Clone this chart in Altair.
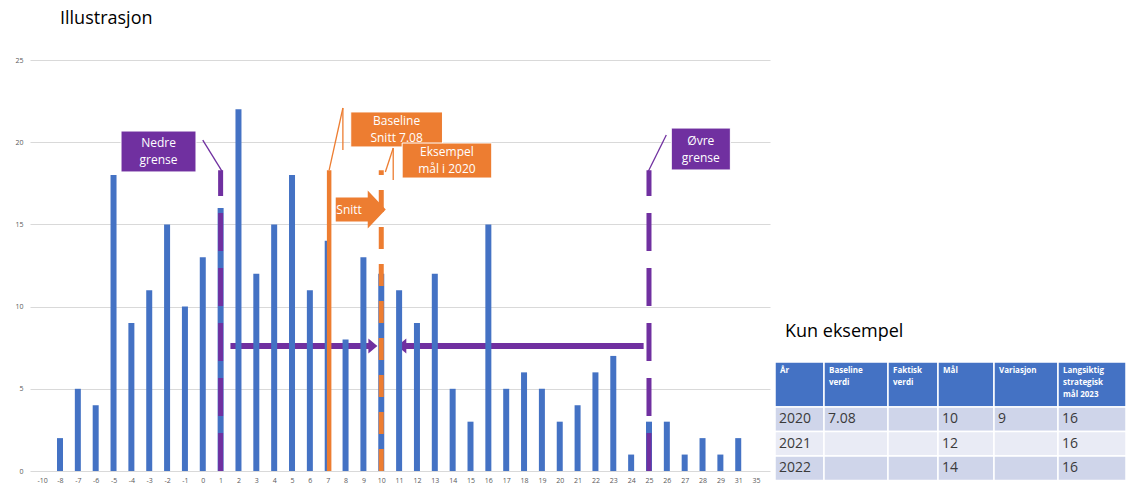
import json
import altair as alt
import pandas as pd

# ---- data -------------------------------------------------------------
categories = ["-10", "-8", "-7", "-6", "-5", "-4", "-3", "-2", "-1", "0", "1", "2",
              "3", "4", "5", "6", "7", "8", "9", "10", "11", "12", "13", "14", "15",
              "16", "17", "18", "19", "20", "21", "22", "23", "24", "25", "26", "27",
              "28", "29", "31", "35"]
counts = [None, 2, 5, 4, 18, 9, 11, 15, 10, 13, 16, 22, 12, 15, 18, 11, 14, 8, 13,
          12, 11, 9, 12, 5, 3, 15, 5, 6, 5, 3, 4, 6, 7, 1, 3, 3, 1, 2, 1, 2, None]

baseline_avg = 7.08
target_2020 = 10
lower_limit = 1
upper_limit = 25

table_header = ["År", "Baseline\nverdi", "Faktisk\nverdi", "Mål", "Variasjon",
                "Langsiktig\nstrategisk\nmål 2023"]
table_rows = [
    ["2020", "7.08", "", "10", "9", "16"],
    ["2021", "", "", "12", "", "16"],
    ["2022", "", "", "14", "", "16"],
]

# ---- styling ----------------------------------------------------------
FONT = "Open Sans"
BLUE = "#4472C4"
ORANGE = "#ED7D31"
PURPLE = "#7030A0"
LINE_TOP = 18.3

cat_vals = [float(c) for c in categories]


def pos(v):
    """Place a value on the category axis (categories sit at integer slots)."""
    for i in range(len(cat_vals) - 1):
        if cat_vals[i] <= v <= cat_vals[i + 1]:
            return i + (v - cat_vals[i]) / (cat_vals[i + 1] - cat_vals[i])
    return float(len(cat_vals) - 1)


xs = alt.Scale(domain=[-0.4, 40.5], nice=False, zero=False)
ys = alt.Scale(domain=[0, 25], nice=False)
xaxis = alt.Axis(values=list(range(len(categories))),
                 labelExpr=json.dumps(categories) + "[datum.value]",
                 grid=False, domain=False, ticks=False, labelFontSize=7,
                 labelColor="#595959", labelPadding=5, labelFont=FONT,
                 labelOverlap=False, labelFlush=False, title=None)
yaxis = alt.Axis(values=[0, 5, 10, 15, 20, 25], grid=True, gridColor="#d9d9d9",
                 domain=False, ticks=False, labelFontSize=7, labelColor="#595959",
                 labelPadding=7, labelFont=FONT, title=None)


def X(f):
    return alt.X(f, type="quantitative", scale=xs, axis=xaxis)


def Y(f):
    return alt.Y(f, type="quantitative", scale=ys, axis=yaxis)


# ---- histogram bars ---------------------------------------------------
bars_df = pd.DataFrame({"idx": range(len(categories)), "kategori": categories,
                        "antall": counts}).dropna()
bars = alt.Chart(bars_df).mark_bar(size=6, color=BLUE).encode(x=X("idx"), y=Y("antall"))

# ---- horizontal arrows between the limits and the target --------------
t = pos(target_2020)
shafts_df = pd.DataFrame({
    "x": [pos(lower_limit) + 0.55, pos(upper_limit) - 0.3],
    "x2": [t - 0.47, t + 1.15],
    "y": [7.6, 7.6],
})
shafts = alt.Chart(shafts_df).mark_rule(color=PURPLE, strokeWidth=6).encode(
    x=X("x"), x2="x2", y=Y("y"))
head_r = alt.Chart(pd.DataFrame({"x": [t - 0.47], "y": [7.6]})).mark_point(
    shape="M-0.6,-1L0.6,0L-0.6,1Z", size=225, filled=True, opacity=1,
    color=PURPLE, strokeWidth=0).encode(x=X("x"), y=Y("y"))
head_l = alt.Chart(pd.DataFrame({"x": [t + 1.15], "y": [7.6]})).mark_point(
    shape="M0.6,-1L-0.6,0L0.6,1Z", size=225, filled=True, opacity=1,
    color=PURPLE, strokeWidth=0).encode(x=X("x"), y=Y("y"))


# ---- vertical reference lines -----------------------------------------
def vline(value, color, width, dash=None):
    df = pd.DataFrame({"x": [pos(value)], "y0": [0], "y1": [LINE_TOP]})
    kw = dict(color=color, strokeWidth=width)
    if dash:
        kw["strokeDash"] = dash
    return alt.Chart(df).mark_rule(**kw).encode(x=X("x"), y=Y("y0"), y2="y1")


lower_line = vline(lower_limit, PURPLE, 5, [38, 17])
upper_line = vline(upper_limit, PURPLE, 5, [38, 17])
base_line = vline(baseline_avg, ORANGE, 4.5)
target_line = vline(target_2020, ORANGE, 5, [22, 15])

# ---- callout boxes ----------------------------------------------------
boxes_df = pd.DataFrame([
    {"x": 4.42, "x2": 8.62, "y": 20.68, "y2": 18.19, "tekst": "Nedre\ngrense", "farge": PURPLE},
    {"x": 17.29, "x2": 22.43, "y": 21.84, "y2": 19.71, "tekst": "Baseline\nSnitt 7.08", "farge": ORANGE},
    {"x": 20.17, "x2": 25.19, "y": 19.95, "y2": 17.82, "tekst": "Eksempel\nmål i 2020", "farge": ORANGE},
    {"x": 35.25, "x2": 38.56, "y": 20.86, "y2": 18.31, "tekst": "Øvre\ngrense", "farge": PURPLE},
])
boxes_df["xm"] = (boxes_df["x"] + boxes_df["x2"]) / 2
boxes_df["ym"] = (boxes_df["y"] + boxes_df["y2"]) / 2
box_rects = alt.Chart(boxes_df).mark_rect(stroke="white", strokeWidth=1).encode(
    x=X("x"), x2="x2", y=Y("y"), y2="y2", color=alt.Color("farge:N", scale=None))
box_text = alt.Chart(boxes_df).mark_text(
    color="white", fontSize=12, font=FONT, lineBreak="\n", lineHeight=17,
    baseline="middle", dy=-8.5).encode(x=X("xm"), y=Y("ym"), text="tekst:N")

leaders_df = pd.DataFrame([
    {"x": 9.0, "y": 20.13, "x2": pos(lower_limit) + 0.1, "y2": LINE_TOP - 0.1, "farge": PURPLE},
    {"x": pos(baseline_avg), "y": LINE_TOP, "x2": 16.85, "y2": 22.08, "farge": ORANGE},
    {"x": 16.85, "y": 22.08, "x2": 16.85, "y2": 19.53, "farge": ORANGE},
    {"x": 19.23, "y": 18.19, "x2": 19.67, "y2": 19.65, "farge": ORANGE},
    {"x": 19.67, "y": 19.65, "x2": 19.67, "y2": 17.70, "farge": ORANGE},
    {"x": pos(upper_limit) - 0.05, "y": LINE_TOP - 0.1, "x2": 34.97, "y2": 20.44, "farge": PURPLE},
])
leaders = alt.Chart(leaders_df).mark_rule(strokeWidth=1.3).encode(
    x=X("x"), y=Y("y"), x2="x2", y2="y2", color=alt.Color("farge:N", scale=None))

# ---- "Snitt" block arrow ----------------------------------------------
snitt_df = pd.DataFrame({"x": [17.85], "y": [15.9], "tx": [17.2], "tekst": ["Snitt"]})
snitt_arrow = alt.Chart(snitt_df).mark_point(
    shape="M-1,-0.48L0.28,-0.48L0.28,-0.76L1,0L0.28,0.76L0.28,0.48L-1,0.48Z",
    size=2500, filled=True, opacity=1, color=ORANGE, strokeWidth=0).encode(
    x=X("x"), y=Y("y"))
snitt_text = alt.Chart(snitt_df).mark_text(
    color="white", fontSize=12, font=FONT, baseline="middle").encode(
    x=X("tx"), y=Y("y"), text="tekst:N")

main = alt.layer(shafts, head_r, head_l, bars, lower_line, upper_line, base_line,
                 target_line, leaders, box_rects, box_text, snitt_arrow, snitt_text)

# ---- example table ----------------------------------------------------
col_widths = [49, 64, 50, 56, 64, 68]
row_heights = [45, 24.5, 24.5, 24.5]
row_fills = ["#CFD5EA", "#E9EBF5", "#CFD5EA"]

col_edges = [sum(col_widths[:i]) for i in range(len(col_widths) + 1)]
row_edges = [sum(row_heights[:i]) for i in range(len(row_heights) + 1)]

cells = []
for r, row in enumerate([table_header] + table_rows):
    for c, txt in enumerate(row):
        cells.append({"x0": col_edges[c], "x1": col_edges[c + 1],
                      "y0": row_edges[r], "y1": row_edges[r + 1],
                      "ym": (row_edges[r] + row_edges[r + 1]) / 2,
                      "tekst": txt, "rad": r,
                      "fyll": BLUE if r == 0 else row_fills[r - 1]})
cells_df = pd.DataFrame(cells)

ts_x = alt.Scale(domain=[0, col_edges[-1]], range=[745, 1096], nice=False, zero=False)
ts_y = alt.Scale(domain=[0, row_edges[-1]], range=[302, 420.5], nice=False, zero=False)


def TX(f):
    return alt.X(f, type="quantitative", scale=ts_x, axis=None)


def TY(f):
    return alt.Y(f, type="quantitative", scale=ts_y, axis=None)


cell_rects = alt.Chart(cells_df).mark_rect(stroke="white", strokeWidth=1.5).encode(
    x=TX("x0"), x2="x1", y=TY("y0"), y2="y1", color=alt.Color("fyll:N", scale=None))
header_text = alt.Chart(cells_df[cells_df["rad"] == 0]).mark_text(
    align="left", baseline="top", dx=5, dy=5, fontSize=8, fontWeight="bold",
    font=FONT, color="white", lineBreak="\n", lineHeight=12).encode(
    x=TX("x0"), y=TY("y0"), text="tekst:N")
body_text = alt.Chart(cells_df[cells_df["rad"] > 0]).mark_text(
    align="left", baseline="middle", dx=4, fontSize=14, font=FONT,
    color="#3a3a3a").encode(x=TX("x0"), y=TY("ym"), text="tekst:N")
table_title = alt.Chart(pd.DataFrame({"x": [10], "y": [-30], "tekst": ["Kun eksempel"]})).mark_text(
    align="left", baseline="middle", fontSize=18, font=FONT, color="black").encode(
    x=TX("x"), y=TY("y"), text="tekst:N")

table = alt.layer(cell_rects, header_text, body_text, table_title)

chart = alt.layer(main, table).resolve_scale(x="independent", y="independent").properties(
    width=740, height=411,
    padding={"left": 30, "top": 60, "right": 356, "bottom": 17},
    autosize=alt.AutoSizeParams(type="none"),
    background="white",
    title=alt.Title("Illustrasjon", anchor="start", frame="group", dx=30, offset=28,
                    fontSize=18, font=FONT, fontWeight="normal", color="black"),
).configure_view(stroke=None)

chart.save("out.html", embed_options={"renderer": "svg", "actions": False})
